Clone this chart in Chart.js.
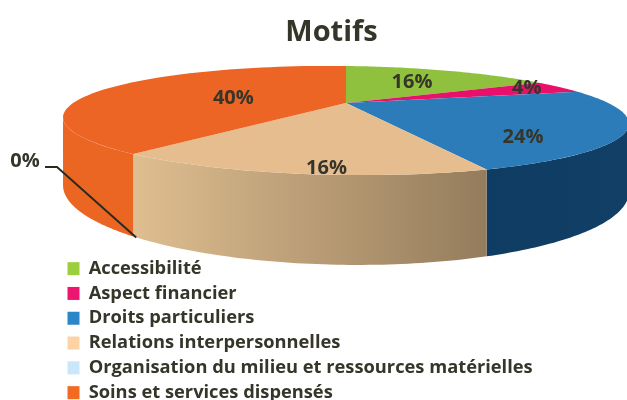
<!DOCTYPE html>
<html lang="fr">
<head>
<meta charset="utf-8">
<title>Motifs</title>
<script src="https://cdn.jsdelivr.net/npm/chart.js@4"></script>
<style>
  html, body { margin: 0; padding: 0; background: #fff; }
  canvas { display: block; }
</style>
</head>
<body>
<canvas id="graficaMotifs" width="627" height="400"></canvas>
<script>
// --- DATA ---
const categories = ['Accessibilité', 'Aspect financier', 'Droits particuliers',
    'Relations interpersonnelles', 'Organisation du milieu et ressources matérielles',
    'Soins et services dispensés'];
const valeurs = [16, 4, 24, 16, 0, 40];

// --- COLORS ---
const couleursFace = ['#8fc13e', '#e8106a', '#2b7cb8', '#e6bd8f', '#c9e6fa', '#ec6524'];
const couleursLegende = ['#9bcf3d', '#ee1570', '#2a86c6', '#fdd2a4', '#c9e6fa', '#f26a22'];
const couleursCote = [
    ['#6f9630', '#6f9630'], ['#a80c4d', '#a80c4d'], ['#0f3c62', '#123f66'],
    ['#dfbe90', '#947c5c'], ['#a9c2d2', '#a9c2d2'], ['#eb6623', '#eb6623']
];
const couleurTexte = '#36352a';

// Perspective of the pie, fitted on the picture
const vue = { cx: 346, cy: 103, rx: 268, ry: 48.9, k: 0.321, prof: 61, pente: 3 };

// Label offsets from the middle of each slice (px)
const decalages = [[-5, 2], [36, -4], [4, 18], [8, 26], [0, 0], [43, 6]];

function projeter(theta, r, bas) {
    const u = Math.sin(theta) * r;
    const v = Math.cos(theta) * r;
    const w = 1 + vue.k * v;
    return {
        x: vue.cx + vue.rx * u / w,
        y: vue.cy + (vue.pente * u - vue.ry * v + (bas ? vue.prof : 0)) / w
    };
}

function tracerCourbe(ctx, a, b, bas) {
    const pas = 60;
    for (let i = 0; i <= pas; i++) {
        const p = projeter(a + (b - a) * i / pas, 1, bas);
        ctx.lineTo(p.x, p.y);
    }
}

const pie3d = {
    id: 'pie3d',
    afterLayout(chart) {
        // legend and title are placed like in the reference
        chart.legend.left = 61;
        chart.legend.right = 620;
        chart.legend.top = 253;
        chart.legend.bottom = 460;
        chart.titleBlock.left += 18;
        chart.titleBlock.right += 18;
    },
    beforeDatasetDraw(chart) {
        const ctx = chart.ctx;
        const arcs = chart.getDatasetMeta(0).data;
        const limA = Math.acos(-vue.k);
        const limB = 2 * Math.PI - limA;

        // side walls
        arcs.forEach((arc, i) => {
            const debut = Math.max(arc.startAngle + Math.PI / 2, limA);
            const fin = Math.min(arc.endAngle + Math.PI / 2, limB);
            if (fin <= debut) return;
            const x0 = projeter(debut, 1).x, x1 = projeter(fin, 1).x;
            const grad = ctx.createLinearGradient(Math.min(x0, x1), 0, Math.max(x0, x1), 0);
            grad.addColorStop(0, couleursCote[i][0]);
            grad.addColorStop(1, couleursCote[i][1]);
            ctx.beginPath();
            tracerCourbe(ctx, debut, fin, false);
            tracerCourbe(ctx, fin, debut, true);
            ctx.closePath();
            ctx.fillStyle = grad;
            ctx.fill();
        });

        // top faces
        arcs.forEach((arc, i) => {
            if (valeurs[i] === 0) return;
            ctx.beginPath();
            ctx.moveTo(vue.cx, vue.cy);
            tracerCourbe(ctx, arc.startAngle + Math.PI / 2, arc.endAngle + Math.PI / 2, false);
            ctx.closePath();
            ctx.fillStyle = arc.options.backgroundColor;
            ctx.fill();
        });

        // value labels
        ctx.font = 'bold 20px "Open Sans"';
        ctx.fillStyle = couleurTexte;
        ctx.textAlign = 'center';
        ctx.textBaseline = 'middle';
        arcs.forEach((arc, i) => {
            if (valeurs[i] === 0) {
                const base = projeter(arc.startAngle + Math.PI / 2, 1, true);
                ctx.fillText(valeurs[i] + '%', 25, 161);
                ctx.beginPath();
                ctx.moveTo(45, 167);
                ctx.lineTo(57, 167);
                ctx.lineTo(base.x + 3, base.y + 1);
                ctx.strokeStyle = '#2b2a20';
                ctx.lineWidth = 2;
                ctx.stroke();
                return;
            }
            const milieu = (arc.startAngle + arc.endAngle) / 2 + Math.PI / 2;
            const p = projeter(milieu, 0.65, false);
            ctx.fillText(valeurs[i] + '%', p.x + decalages[i][0], p.y + decalages[i][1]);
        });
        return false;
    }
};

new Chart(document.getElementById('graficaMotifs'), {
    type: 'pie',
    data: {
        labels: categories,
        datasets: [{ data: valeurs, backgroundColor: couleursFace, borderWidth: 0 }]
    },
    options: {
        responsive: false,
        animation: false,
        plugins: {
            tooltip: { enabled: false },
            title: {
                display: true,
                text: 'Motifs',
                color: couleurTexte,
                font: { family: '"Open Sans"', size: 29, weight: 'bold' },
                padding: { top: 15, bottom: 10 }
            },
            legend: {
                position: 'left',
                align: 'start',
                labels: {
                    color: couleurTexte,
                    font: { family: '"Open Sans"', size: 18.3, weight: 'bold' },
                    boxWidth: 12,
                    boxHeight: 13,
                    padding: 6.5,
                    generateLabels: chart => categories.map((c, i) => ({
                        text: c,
                        fillStyle: couleursLegende[i],
                        strokeStyle: couleursLegende[i],
                        lineWidth: 0,
                        fontColor: couleurTexte,
                        index: i
                    }))
                }
            }
        }
    },
    plugins: [pie3d]
});
</script>
</body>
</html>
